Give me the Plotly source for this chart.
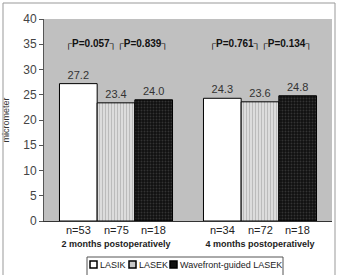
import plotly.graph_objects as go

groups = ["2 months postoperatively", "4 months postoperatively"]
series = ["LASIK", "LASEK", "Wavefront-guided LASEK"]
values = {
    "LASIK": [27.2, 24.3],
    "LASEK": [23.4, 23.6],
    "Wavefront-guided LASEK": [24.0, 24.8],
}
n_labels = {
    "LASIK": ["n=53", "n=34"],
    "LASEK": ["n=75", "n=72"],
    "Wavefront-guided LASEK": ["n=18", "n=18"],
}
p_labels = ["┌P=0.057┐┌P=0.839┐", "┌P=0.761┐┌P=0.134┐"]
y_ticks = [0, 5, 10, 15, 20, 25, 30, 35, 40]

W, H = 338, 275
ML, MR, MT, MB = 44, 6, 19, 54
BARGAP = 0.215
plot_w = W - ML - MR
plot_h = H - MT - MB
bar_px = plot_w / len(groups) * (1 - BARGAP) / len(series)

FONT = "Liberation Sans, Arial, sans-serif"

styles = {
    "LASIK": dict(color="white", pattern=dict(shape="")),
    "LASEK": dict(color="#dcdcdc", pattern=dict(shape="|", fgcolor="#9a9a9a", size=3, solidity=0.35)),
    "Wavefront-guided LASEK": dict(color="#111111", pattern=dict(shape=".", fgcolor="#555555", size=3, solidity=0.3)),
}
legend_fill = {"LASIK": "white", "LASEK": "#c8c8c8", "Wavefront-guided LASEK": "#111111"}


def px_x(px):
    return (px - ML) / plot_w


def px_y(py):
    return (H - MB - py) / plot_h


fig = go.Figure()
for s in series:
    fig.add_trace(go.Bar(
        name=s, x=groups, y=values[s],
        text=[f"{v:.1f}" for v in values[s]], textposition="outside",
        textfont=dict(size=11, color="#333333"),
        cliponaxis=False,
        marker=dict(color=styles[s]["color"], pattern=styles[s]["pattern"],
                    line=dict(color="black", width=1)),
    ))

annotations = []
shapes = []
for k, s in enumerate(series):
    for gi, g in enumerate(groups):
        annotations.append(dict(
            x=g, xref="x", y=0, yref="paper", yanchor="top",
            xshift=(k - 1) * bar_px, yshift=-1,
            text=n_labels[s][gi], showarrow=False,
            font=dict(size=11, color="#222222"),
        ))
for gi, g in enumerate(groups):
    annotations.append(dict(
        x=g, xref="x", y=35.0, yref="y",
        text=f"<b>{p_labels[gi]}</b>", showarrow=False,
        font=dict(size=10, color="#111111"),
    ))

# manual legend
LEG_FS = 9
leg_sq_x = [90, 129, 170]
for k, s in enumerate(series):
    x0 = leg_sq_x[k]
    shapes.append(dict(type="rect", xref="paper", yref="paper",
                       x0=px_x(x0), x1=px_x(x0 + 7), y0=px_y(268), y1=px_y(261),
                       line=dict(color="black", width=1.5), fillcolor=legend_fill[s]))
    annotations.append(dict(x=px_x(x0 + 8), xref="paper", y=px_y(264.5), yref="paper",
                            xanchor="left", yanchor="middle", text=s, showarrow=False,
                            font=dict(size=LEG_FS, color="#222222")))
shapes.append(dict(type="rect", xref="paper", yref="paper",
                   x0=px_x(87), x1=px_x(283), y0=px_y(276), y1=px_y(257),
                   line=dict(color="#555555", width=1), fillcolor="rgba(0,0,0,0)"))
# outer frame
shapes.append(dict(type="rect", xref="paper", yref="paper",
                   x0=px_x(3), x1=px_x(335), y0=px_y(278), y1=px_y(3),
                   line=dict(color="#999999", width=1), fillcolor="rgba(0,0,0,0)", layer="below"))

fig.update_layout(
    width=W, height=H,
    margin=dict(l=ML, r=MR, t=MT, b=MB, autoexpand=False),
    paper_bgcolor="white", plot_bgcolor="#c0c0c0",
    barmode="group", bargap=BARGAP, bargroupgap=0,
    font=dict(family=FONT, color="#333333"),
    annotations=annotations, shapes=shapes,
    showlegend=False,
)
fig.update_yaxes(range=[0, 40], tickvals=y_ticks, ticks="outside", ticklen=4,
                 tickcolor="#555555", showline=True, linecolor="#555555", linewidth=1,
                 showgrid=False, zeroline=False,
                 tickfont=dict(size=12, color="#444444"),
                 title=dict(text="micrometer", font=dict(size=9, color="#333333"), standoff=12))
fig.update_xaxes(showline=True, linecolor="#333333", linewidth=1, showgrid=False,
                 tickfont=dict(size=9, color="#222222"),
                 tickvals=groups, ticktext=[f"<b>{g}</b>" for g in groups],
                 ticks="", ticklabelstandoff=14)
fig.write_html("out.html")
